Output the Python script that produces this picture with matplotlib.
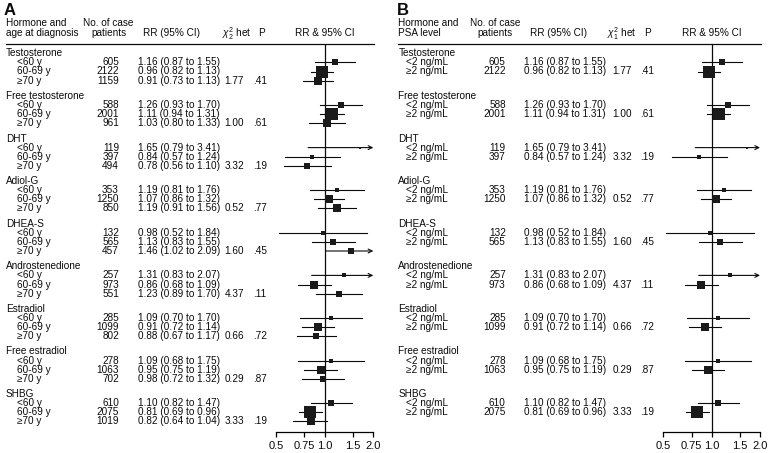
import matplotlib
matplotlib.use("Agg")
import matplotlib.pyplot as plt
import numpy as np

plt.rcParams['font.family'] = ['Liberation Sans', 'DejaVu Sans']
plt.rcParams['mathtext.fontset'] = 'custom'
plt.rcParams['mathtext.rm'] = 'Liberation Sans'
plt.rcParams['mathtext.it'] = 'Liberation Sans:italic'

hormones = ['Testosterone', 'Free testosterone', 'DHT', 'Adiol-G', 'DHEA-S',
            'Androstenedione', 'Estradiol', 'Free estradiol', 'SHBG']

# panel A: by age at diagnosis
age_labels = ['<60 y', '60-69 y', '\u226570 y']
nA = [[605, 2122, 1159], [588, 2001, 961], [119, 397, 494], [353, 1250, 850],
      [132, 565, 457], [257, 973, 551], [285, 1099, 802], [278, 1063, 702],
      [610, 2075, 1019]]
rrA = [[1.16, 0.96, 0.91], [1.26, 1.11, 1.03], [1.65, 0.84, 0.78], [1.19, 1.07, 1.19],
       [0.98, 1.13, 1.46], [1.31, 0.86, 1.23], [1.09, 0.91, 0.88], [1.09, 0.95, 0.98],
       [1.10, 0.81, 0.82]]
loA = [[0.87, 0.82, 0.73], [0.93, 0.94, 0.80], [0.79, 0.57, 0.56], [0.81, 0.86, 0.91],
       [0.52, 0.83, 1.02], [0.83, 0.68, 0.89], [0.70, 0.72, 0.67], [0.68, 0.75, 0.72],
       [0.82, 0.69, 0.64]]
hiA = [[1.55, 1.13, 1.13], [1.70, 1.31, 1.33], [3.41, 1.24, 1.10], [1.76, 1.32, 1.56],
       [1.84, 1.55, 2.09], [2.07, 1.09, 1.70], [1.70, 1.14, 1.17], [1.75, 1.19, 1.32],
       [1.47, 0.96, 1.04]]
chiA = ['1.77', '1.00', '3.32', '0.52', '1.60', '4.37', '0.66', '0.29', '3.33']
pA = ['.41', '.61', '.19', '.77', '.45', '.11', '.72', '.87', '.19']

# panel B: by PSA level
psa_labels = ['<2 ng/mL', '\u22652 ng/mL']
nB = [[605, 2122], [588, 2001], [119, 397], [353, 1250], [132, 565], [257, 973],
      [285, 1099], [278, 1063], [610, 2075]]
rrB = [[1.16, 0.96], [1.26, 1.11], [1.65, 0.84], [1.19, 1.07], [0.98, 1.13],
       [1.31, 0.86], [1.09, 0.91], [1.09, 0.95], [1.10, 0.81]]
loB = [[0.87, 0.82], [0.93, 0.94], [0.79, 0.57], [0.81, 0.86], [0.52, 0.83],
       [0.83, 0.68], [0.70, 0.72], [0.68, 0.75], [0.82, 0.69]]
hiB = [[1.55, 1.13], [1.70, 1.31], [3.41, 1.24], [1.76, 1.32], [1.84, 1.55],
       [2.07, 1.09], [1.70, 1.14], [1.75, 1.19], [1.47, 0.96]]
chiB = ['1.77', '1.00', '3.32', '0.52', '1.60', '4.37', '0.66', '0.29', '3.33']
pB = ['.41', '.61', '.19', '.77', '.45', '.11', '.72', '.87', '.19']

xticks = [0.5, 0.75, 1.0, 1.5, 2.0]
xticklabels = ['0.5', '0.75', '1.0', '1.5', '2.0']

W, H = 771, 453
fig = plt.figure(figsize=(W / 100, H / 100), dpi=100)
tx = fig.add_axes([0, 0, 1, 1])
tx.set_xlim(0, W)
tx.set_ylim(H, 0)
tx.axis('off')

FS = 7.2
col = '#0a0a0a'
y0, gstep, rstep = 53.3, 42.6, 9.1
y_top, y_axis = 44, 431.7


def panel(letter, head1, head2, chi_head, sub_labels, n, rr, lo, hi, chi, p, c):
    tx.text(c['letter'], 10.5, letter, fontsize=12, fontweight='bold', va='center', color=col)
    tx.text(c['lab'], 23.3, head1, fontsize=FS, va='center', color=col)
    tx.text(c['lab'], 33.3, head2, fontsize=FS, va='center', color=col)
    tx.text(c['nhead'], 23.3, 'No. of case', fontsize=FS, va='center', ha='center', color=col)
    tx.text(c['nhead'], 33.3, 'patients', fontsize=FS, va='center', ha='center', color=col)
    tx.text(c['rrhead'], 33.3, 'RR (95% CI)', fontsize=FS, va='center', color=col)
    tx.text(c['chihead'], 33.3, chi_head, fontsize=FS, va='center', color=col)
    tx.text(c['phead'], 33.3, 'P', fontsize=FS, va='center', color=col)
    tx.text(c['one'], 33.3, 'RR & 95% CI', fontsize=FS, va='center', ha='center', color=col)
    tx.plot([c['lab'], c['right']], [y_top, y_top], color=col, lw=0.9)

    ax = fig.add_axes([c['x05'] / W, (H - y_axis) / H,
                       (c['x2'] - c['x05']) / W, (y_axis - y_top) / H])
    ax.set_xscale('log')
    ax.set_xlim(0.5, 2.0)
    ax.set_ylim(y_axis, y_top)
    ax.patch.set_alpha(0)
    for s in ['top', 'left', 'right']:
        ax.spines[s].set_visible(False)
    ax.spines['bottom'].set_linewidth(0.9)
    ax.set_yticks([])
    ax.set_xticks(xticks)
    ax.set_xticklabels(xticklabels, fontsize=8, color=col)
    ax.xaxis.set_minor_locator(matplotlib.ticker.NullLocator())
    ax.tick_params(axis='x', direction='out', length=3.5, width=0.9, pad=3)
    ax.axvline(1.0, color=col, lw=0.9)

    for g, name in enumerate(hormones):
        gy = y0 + g * gstep
        tx.text(c['lab'], gy, name, fontsize=FS, va='center', color=col)
        k = len(sub_labels)
        for j in range(k):
            y = gy + rstep * (j + 1)
            tx.text(c['lab'] + c['indent'], y, sub_labels[j], fontsize=FS, va='center', color=col)
            tx.text(c['nright'], y, str(n[g][j]), fontsize=FS, va='center', ha='right', color=col)
            tx.text(c['rr'], y, f'{rr[g][j]:.2f} ({lo[g][j]:.2f} to {hi[g][j]:.2f})',
                    fontsize=FS, va='center', color=col)
            se = (np.log(hi[g][j]) - np.log(lo[g][j])) / (2 * 1.96)
            if hi[g][j] > 2.0:
                ax.annotate('', xy=(2.0, y), xytext=(lo[g][j], y),
                            arrowprops=dict(arrowstyle='->', lw=0.8, color=col,
                                            shrinkA=0, shrinkB=0,
                                            mutation_scale=7))
            else:
                ax.plot([lo[g][j], hi[g][j]], [y, y], color=col, lw=0.8)
            ax.plot(rr[g][j], y, marker='s', ms=0.7 / se, color='#1a1a1a', mew=0, zorder=3)
        ylast = gy + rstep * k
        tx.text(c['chi'], ylast, chi[g], fontsize=FS, va='center', color=col)
        tx.text(c['p'], ylast, p[g], fontsize=FS, va='center', color=col)


colsA = dict(letter=3.5, lab=5.7, indent=11, nhead=108.5, nright=119, rr=138.3, rrhead=143,
             chihead=221.7, chi=224.5, phead=258.5, p=253.3, one=324.7, right=374,
             x05=276, x2=373.3)
colsB = dict(letter=397, lab=398.3, indent=7.4, nhead=495.3, nright=505.7, rr=524.3,
             rrhead=530, chihead=606.7, chi=612.7, phead=644.3, p=640, one=711.5,
             right=760.7, x05=663.3, x2=760)

panel('A', 'Hormone and', 'age at diagnosis', r'$\chi^2_2$ het', age_labels,
      nA, rrA, loA, hiA, chiA, pA, colsA)
panel('B', 'Hormone and', 'PSA level', r'$\chi^2_1$ het', psa_labels,
      nB, rrB, loB, hiB, chiB, pB, colsB)

fig.savefig('out.png', dpi=100)
